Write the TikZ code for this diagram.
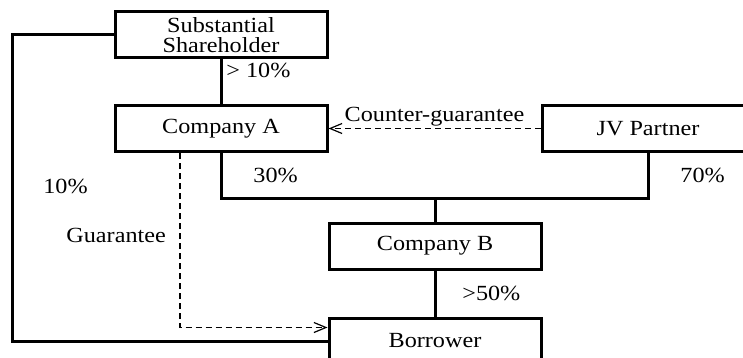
\documentclass[tikz,border=0pt]{standalone}
\usepackage{fontspec}
\setmainfont{Liberation Serif}[FakeStretch=1.12]
\usetikzlibrary{arrows.meta}
\usetikzlibrary{positioning}
\usetikzlibrary{calc}

\begin{document}
\begin{tikzpicture}[x=0.5pt,y=0.5pt,yscale=-1,xscale=1,
	ent/.style={draw, line width=1.5pt, minimum width=106pt, minimum height=23pt, inner sep=0pt, align=center, font=\fontsize{10.8}{10}\selectfont},
	own/.style={line width=1.5pt},
	gtee/.style={line width=0.6pt, dash pattern=on 3pt off 2pt, -{Straight Barb[length=6pt,width=5pt]}},
	pct/.style={font=\fontsize{10.8}{12}\selectfont, inner sep=0pt, anchor=base west}]
		\useasboundingbox (0,0) rectangle (743,358);
		
		%Entities
		\node[ent] (sholder) at (221,35) {Substantial\\Shareholder};
		\node[ent] (coa) at (221,128.5) {Company A};
		\node[ent] (jv) at (648,128.5) {JV Partner};
		\node[ent] (cob) at (435,246) {Company B};
		\node[ent] (borrower) at (435,341) {Borrower};
		
		%Shareholdings
		\coordinate (lft) at (12,0);
		\coordinate (jvjoin) at (435,198);
		\draw[own] (sholder) -- (coa);
		\draw[own] (sholder.west) -| (lft |- borrower.west) -- (borrower.west);
		\draw[own] (coa.south) |- (jvjoin) -| (jv.south);
		\draw[own] (jvjoin) -- (cob.north);
		\draw[own] (cob) -- (borrower);
		
		%Guarantees
		\draw[gtee] (jv.west) -- node[pct, anchor=base, yshift=3.5pt] {Counter-guarantee} (coa.east);
		\draw[gtee] ($(coa.south)+(-41,0)$) |- ($(borrower.north west)+(0,11)$);
		
		%Labels
		\node[pct] (p10a) at (226,77) {> 10\%};
		\node[pct] (p10b) at (43,193) {10\%};
		\node[pct] (gtext) at (66,242) {Guarantee};
		\node[pct] (p30) at (253,182) {30\%};
		\node[pct] (p70) at (680,182) {70\%};
		\node[pct] (p50) at (462,300) {>50\%};
		
\end{tikzpicture}
\end{document}
